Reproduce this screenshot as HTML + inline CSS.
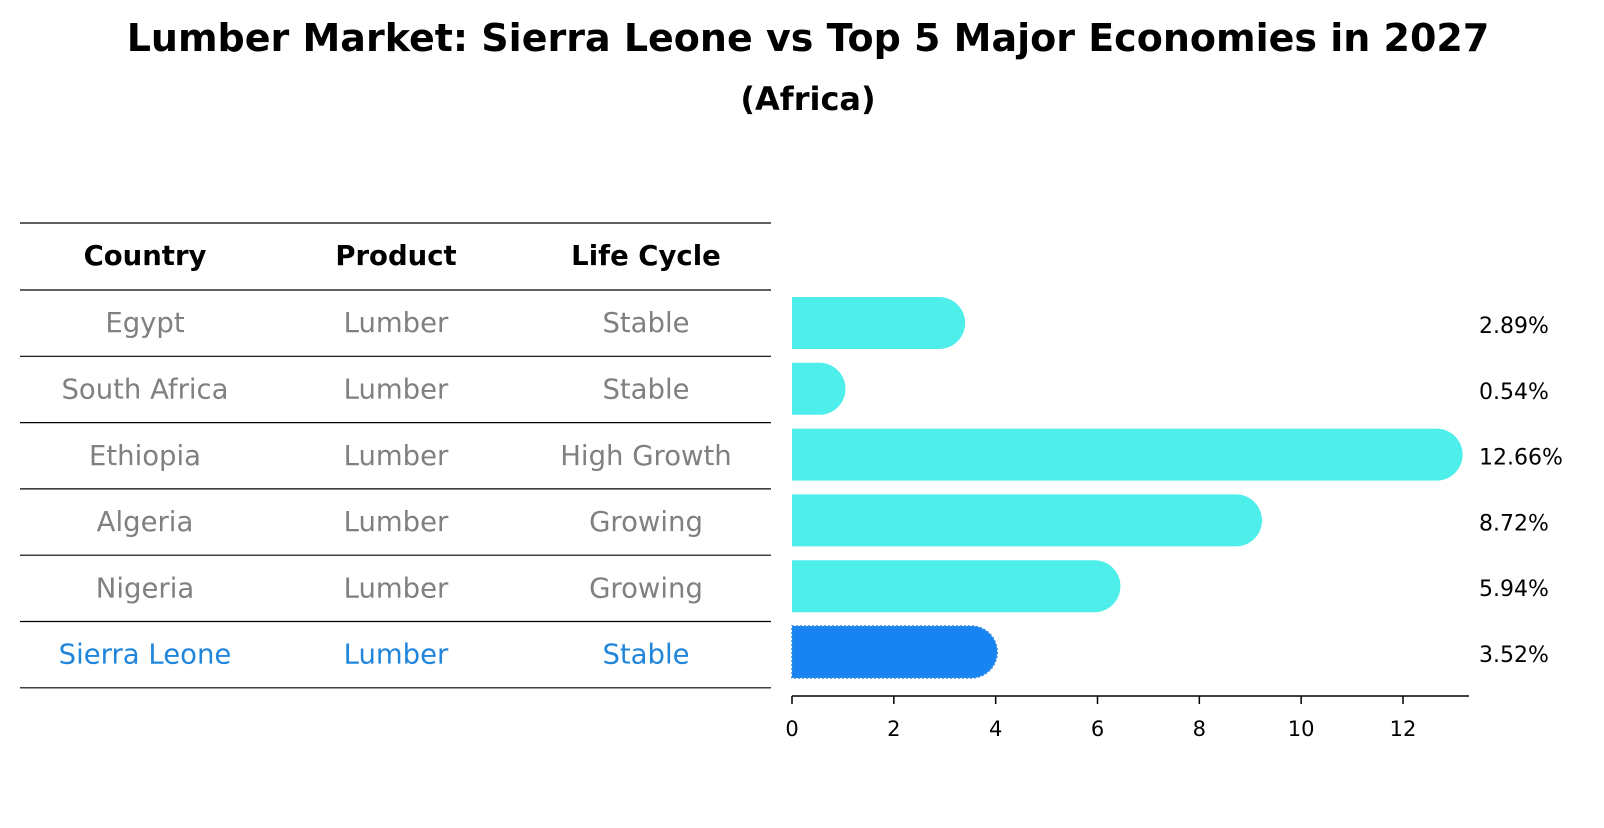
<!DOCTYPE html>
<html><head><meta charset="utf-8"><style>
body{margin:0;background:#fff;font-family:"Liberation Sans","DejaVu Sans",sans-serif;}
svg text{font-family:"DejaVu Sans","Liberation Sans",sans-serif;}
</style></head><body>
<svg id="chart" width="1604" height="823" viewBox="0 0 1604 823" xmlns="http://www.w3.org/2000/svg">
<text x="808" y="51" text-anchor="middle" font-size="38" font-weight="bold">Lumber Market: Sierra Leone vs Top 5 Major Economies in 2027</text>
<text x="808" y="110" text-anchor="middle" font-size="32" font-weight="bold">(Africa)</text>
<g id="table"></g>
<g id="bars"></g>
<g id="axis"></g>
</svg>
<script>
const countries = ["Egypt","South Africa","Ethiopia","Algeria","Nigeria","Sierra Leone"];
const products = ["Lumber","Lumber","Lumber","Lumber","Lumber","Lumber"];
const lifeCycles = ["Stable","Stable","High Growth","Growing","Growing","Stable"];
const values = [2.89,0.54,12.66,8.72,5.94,3.52];
const valueLabels = ["2.89%","0.54%","12.66%","8.72%","5.94%","3.52%"];
const xTicks = [0,2,4,6,8,10,12];
const headers = ["Country","Product","Life Cycle"];

const NS="http://www.w3.org/2000/svg";
function mk(tag,attrs,parent){const e=document.createElementNS(NS,tag);for(const k in attrs)e.setAttribute(k,attrs[k]);parent.appendChild(e);return e;}
const x0=792, pxPerUnit=(1403-792)/12;
function xs(v){return x0+v*pxPerUnit;}
const rowTop=290, rowH=66.3;
function yc(i){return 323+i*65.8;}
const hl=countries.length-1;

const table=document.getElementById('table');
const colX=[145,396,646];
const lineYs=[223];
for(let i=0;i<=countries.length;i++)lineYs.push(rowTop+i*rowH);
lineYs.forEach((y,i)=>{
  const l=mk('line',{x1:20,x2:771,y1:y,y2:y,stroke:'#000','stroke-width':1.2},table);
  
  
});
headers.forEach((h,j)=>{
  const t=mk('text',{x:colX[j],y:265,'text-anchor':'middle','font-size':27.5,'font-weight':'bold'},table);
  t.textContent=h;
  
  
});
countries.forEach((c,i)=>{
  const col=i===hl?'#1f86dc':'#808080';
  const cy=rowTop+i*rowH+rowH/2+9;
  [c,products[i],lifeCycles[i]].forEach((v,j)=>{
    const t=mk('text',{x:colX[j],y:cy,'text-anchor':'middle','font-size':27.5,fill:col},table);
    t.textContent=v;
    
    
  });
});

const bars=document.getElementById('bars');
const bh=52, r=26;
values.forEach((v,i)=>{
  const y=yc(i)-bh/2, x1=xs(v);
  const col=i===hl?'#1884f2':'#4eeeea';
  const p=mk('path',{d:`M${x0},${y} H${x1} A${r},${r} 0 0 1 ${x1},${y+bh} H${x0} Z`,fill:col},bars);
  
  
  if(i===hl){p.setAttribute('stroke','#3a8fe0');p.setAttribute('stroke-dasharray','2,2');p.setAttribute('stroke-width','1.5');}
  const t=mk('text',{x:1479,y:yc(i)+10,'font-size':22,fill:'#000'},bars);
  t.textContent=valueLabels[i];
  
  
});

const axis=document.getElementById('axis');
const al=mk('line',{x1:x0,x2:1469,y1:696,y2:696,stroke:'#000','stroke-width':1.5},axis);


xTicks.forEach(v=>{
  const tk=mk('line',{x1:xs(v),x2:xs(v),y1:696,y2:704,stroke:'#000','stroke-width':1.5},axis);
  
  
  const t=mk('text',{x:xs(v),y:736,'text-anchor':'middle','font-size':21},axis);
  t.textContent=v;
  
  
});
</script>
</body></html>
